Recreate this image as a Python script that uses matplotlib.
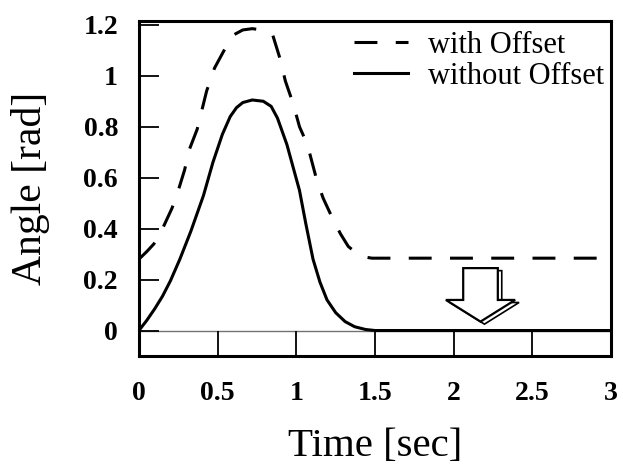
import numpy as np
import matplotlib
matplotlib.use("Agg")
import matplotlib.pyplot as plt

plt.rcParams['font.family'] = ['Liberation Serif', 'DejaVu Serif']

# curves (time [sec], angle [rad])
t_with = [0.0, 0.05, 0.095, 0.15, 0.21, 0.25, 0.29, 0.32, 0.37, 0.43, 0.48, 0.55,
          0.60, 0.66, 0.72, 0.78, 0.85, 0.90, 0.93, 0.98, 1.02, 1.07, 1.10, 1.13,
          1.17, 1.23, 1.28, 1.33, 1.37, 1.42, 1.48, 2.0, 2.5, 3.0]
y_with = [0.28, 0.31, 0.34, 0.40, 0.48, 0.55, 0.63, 0.71, 0.79, 0.94, 1.03, 1.11,
          1.16, 1.18, 1.185, 1.18, 1.16, 1.06, 0.98, 0.89, 0.80, 0.73, 0.66, 0.59,
          0.52, 0.44, 0.38, 0.33, 0.31, 0.29, 0.284, 0.284, 0.284, 0.284]

t_without = [0.0, 0.05, 0.10, 0.15, 0.20, 0.26, 0.33, 0.41, 0.47, 0.53, 0.58, 0.62,
             0.66, 0.72, 0.79, 0.84, 0.88, 0.94, 1.02, 1.06, 1.106, 1.15, 1.195, 1.25,
             1.31, 1.37, 1.44, 1.5, 2.0, 2.5, 3.0]
y_without = [0.0, 0.04, 0.085, 0.135, 0.195, 0.28, 0.39, 0.53, 0.66, 0.77, 0.84, 0.875,
             0.895, 0.905, 0.90, 0.88, 0.834, 0.73, 0.55, 0.42, 0.28, 0.19, 0.12, 0.07,
             0.035, 0.015, 0.004, 0.0, 0.0, 0.0, 0.0]

x_ticks = [0, 0.5, 1, 1.5, 2, 2.5, 3]
x_tick_labels = ['0', '0.5', '1', '1.5', '2', '2.5', '3']
y_ticks = [0, 0.2, 0.4, 0.6, 0.8, 1.0, 1.2]
y_tick_labels = ['0', '0.2', '0.4', '0.6', '0.8', '1', '1.2']

# hollow arrow pointing at the offset removal
arrow_x, arrow_top, arrow_len = 2.17, 0.245, 0.21

fig = plt.figure(figsize=(6.23, 4.67), dpi=100)
ax = fig.add_axes([0.223, 0.2377, 0.758, 0.7173])

ax.axhline(0, color='0.45', lw=1.0, zorder=1)
ax.plot(t_with, y_with, color='black', lw=2.2, linestyle=(0, (7.5, 6)),
        label='with Offset', zorder=3)
ax.plot(t_without, y_without, color='black', lw=2.2, label='without Offset', zorder=3)

# shadow then arrow
ax.arrow(arrow_x + 0.025, arrow_top - 0.01, 0, -arrow_len, width=0.22, head_width=0.44,
         head_length=0.085, length_includes_head=True, fc='white', ec='black',
         lw=1.2, zorder=4)
ax.arrow(arrow_x, arrow_top, 0, -arrow_len, width=0.22, head_width=0.44,
         head_length=0.085, length_includes_head=True, fc='white', ec='black',
         lw=1.6, zorder=5)

ax.set_xlim(0, 3)
ax.set_ylim(-0.1, 1.215)
ax.set_xticks(x_ticks)
ax.set_xticklabels(x_tick_labels)
ax.set_yticks(y_ticks)
ax.set_yticklabels(y_tick_labels)
ax.tick_params(axis='x', direction='in', length=18, width=1.3, pad=18, labelsize=20)
ax.tick_params(axis='y', direction='in', length=14.5, width=1.3, pad=15, labelsize=20)
for lab in ax.get_xticklabels() + ax.get_yticklabels():
    lab.set_fontweight('bold')
for s in ax.spines.values():
    s.set_linewidth(2.2)

ax.set_xlabel('Time [sec]', fontsize=29.5)
ax.xaxis.set_label_coords(0.5, -0.215)
ax.set_ylabel('Angle [rad]', fontsize=30)
ax.yaxis.set_label_coords(-0.189, 0.5)

leg = ax.legend(loc='upper right', frameon=False, fontsize=22, handlelength=1.77,
                handletextpad=0.65, borderaxespad=0.0, borderpad=0.0,
                labelspacing=0.06, bbox_to_anchor=(0.985, 0.97))

fig.savefig('out.png', dpi=100)
